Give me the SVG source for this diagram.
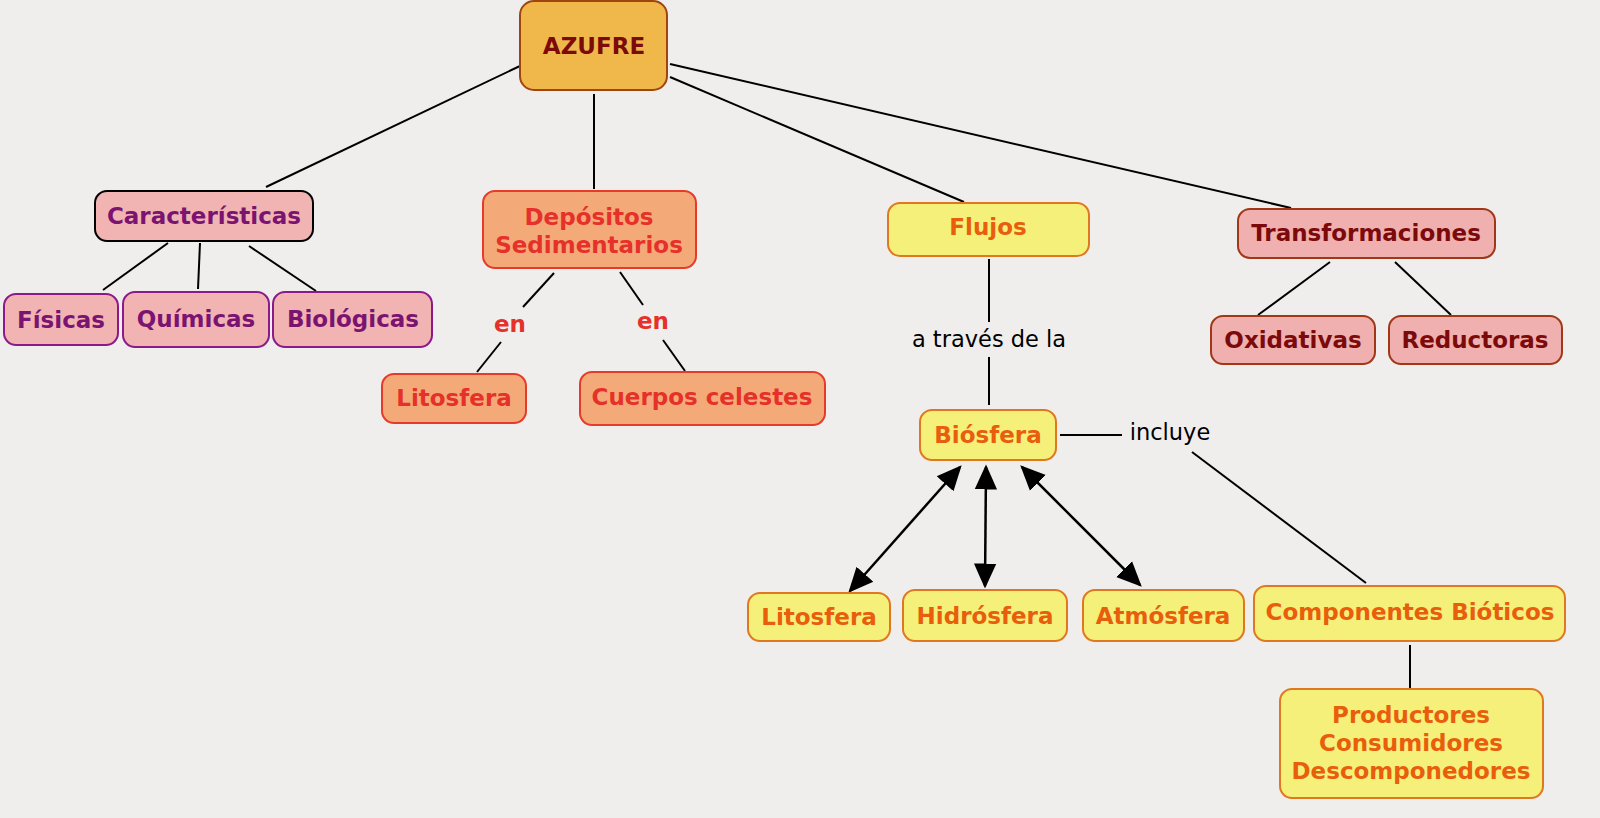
<svg xmlns="http://www.w3.org/2000/svg" width="1600" height="818" viewBox="0 0 1600 818">
<defs>
<marker id="ah" viewBox="0 0 10 10" refX="9" refY="5" markerWidth="25" markerHeight="25" markerUnits="userSpaceOnUse" orient="auto-start-reverse">
<path d="M0,0.5 L10,5 L0,9.5 z" fill="#000"/>
</marker>
<style>
.bg{fill:#efeeec}
rect{stroke-width:2}
.t{font-family:"DejaVu Sans",Verdana,sans-serif;font-weight:bold;font-size:23px;text-anchor:middle}
.l{font-family:"DejaVu Sans",Verdana,sans-serif;font-size:22.5px;text-anchor:middle;fill:#000}
.root{fill:#f0b84a;stroke:#a0450e}
.rootT{fill:#7c0a0a}
.pk{fill:#f2b3b3;stroke:#000}
.pkp{fill:#f2b3b3;stroke:#8a1a8a}
.pT{fill:#7b1470}
.sa{fill:#f4aa78;stroke:#e63a2a}
.sT{fill:#e6302a}
.ye{fill:#f4f07a;stroke:#e07820}
.yT{fill:#e85e0c}
.tr{fill:#f0b0b0;stroke:#a03818}
.rT{fill:#7c0a0a}
.c{stroke:#000;stroke-width:2;fill:none}
.ar{stroke:#000;stroke-width:2.5;fill:none}
.en{font-family:"DejaVu Sans",Verdana,sans-serif;font-weight:bold;font-size:23px;text-anchor:middle;fill:#e6302a}
</style>
</defs>
<rect class="bg" x="0" y="0" width="1600" height="818" style="stroke:none"/>
<g id="connectors">
<line class="c" x1="520" y1="66" x2="266" y2="187"/>
<line class="c" x1="594" y1="94" x2="594" y2="189"/>
<line class="c" x1="670" y1="77" x2="964" y2="202"/>
<line class="c" x1="670" y1="64" x2="1291" y2="208"/>
<line class="c" x1="168" y1="243" x2="103" y2="290"/>
<line class="c" x1="200" y1="243" x2="198" y2="289"/>
<line class="c" x1="249" y1="246" x2="316" y2="291"/>
<line class="c" x1="554" y1="273" x2="523" y2="307"/>
<line class="c" x1="501" y1="342" x2="477" y2="372"/>
<line class="c" x1="620" y1="272" x2="643" y2="305"/>
<line class="c" x1="663" y1="340" x2="685" y2="371"/>
<line class="c" x1="989" y1="259" x2="989" y2="322"/>
<line class="c" x1="989" y1="357" x2="989" y2="405"/>
<line class="c" x1="1060" y1="435" x2="1122" y2="435"/>
<line class="c" x1="1192" y1="452" x2="1366" y2="583"/>
<line class="c" x1="1330" y1="262" x2="1258" y2="315"/>
<line class="c" x1="1395" y1="262" x2="1451" y2="315"/>
<line class="c" x1="1410" y1="645" x2="1410" y2="688"/>
<line class="ar" x1="960" y1="467" x2="850" y2="591" marker-start="url(#ah)" marker-end="url(#ah)"/>
<line class="ar" x1="986" y1="467" x2="985" y2="586" marker-start="url(#ah)" marker-end="url(#ah)"/>
<line class="ar" x1="1022" y1="467" x2="1140" y2="585" marker-start="url(#ah)" marker-end="url(#ah)"/>
<text class="en" x="510" y="332">en</text>
<text class="en" x="653" y="329">en</text>
<text class="l" x="989" y="347">a través de la</text>
<text class="l" x="1170" y="440">incluye</text>
</g>
<g id="azufre"><rect class="root" x="520" y="1" width="147" height="89" rx="14"/><text class="t rootT" x="594" y="54">AZUFRE</text></g>
<g id="caracteristicas"><rect class="pk" x="95" y="191" width="218" height="50" rx="12"/><text class="t pT" x="204" y="224">Características</text></g>
<g id="fisicas"><rect class="pkp" x="4" y="294" width="114" height="51" rx="12"/><text class="t pT" x="61" y="328">Físicas</text></g>
<g id="quimicas"><rect class="pkp" x="123" y="292" width="146" height="55" rx="12"/><text class="t pT" x="196" y="327">Químicas</text></g>
<g id="biologicas"><rect class="pkp" x="273" y="292" width="159" height="55" rx="12"/><text class="t pT" x="353" y="327">Biológicas</text></g>
<g id="depositos"><rect class="sa" x="483" y="191" width="213" height="77" rx="12"/><text class="t sT" x="589" y="225">Depósitos</text><text class="t sT" x="589" y="253">Sedimentarios</text></g>
<g id="litosfera1"><rect class="sa" x="382" y="374" width="144" height="49" rx="12"/><text class="t sT" x="454" y="406">Litosfera</text></g>
<g id="cuerpos"><rect class="sa" x="580" y="372" width="245" height="53" rx="12"/><text class="t sT" x="702" y="405">Cuerpos celestes</text></g>
<g id="flujos"><rect class="ye" x="888" y="203" width="201" height="53" rx="12"/><text class="t yT" x="988" y="235">Flujos</text></g>
<g id="biosfera"><rect class="ye" x="920" y="410" width="136" height="50" rx="12"/><text class="t yT" x="988" y="443">Biósfera</text></g>
<g id="litosfera2"><rect class="ye" x="748" y="593" width="142" height="48" rx="12"/><text class="t yT" x="819" y="625">Litosfera</text></g>
<g id="hidrosfera"><rect class="ye" x="903" y="590" width="164" height="51" rx="12"/><text class="t yT" x="985" y="624">Hidrósfera</text></g>
<g id="atmosfera"><rect class="ye" x="1083" y="590" width="161" height="51" rx="12"/><text class="t yT" x="1163" y="624">Atmósfera</text></g>
<g id="componentes"><rect class="ye" x="1254" y="586" width="311" height="55" rx="12"/><text class="t yT" x="1410" y="620">Componentes Bióticos</text></g>
<g id="productores"><rect class="ye" x="1280" y="689" width="263" height="109" rx="12"/><text class="t yT" x="1411" y="723">Productores</text><text class="t yT" x="1411" y="751">Consumidores</text><text class="t yT" x="1411" y="779">Descomponedores</text></g>
<g id="transformaciones"><rect class="tr" x="1238" y="209" width="257" height="49" rx="12"/><text class="t rT" x="1366" y="241">Transformaciones</text></g>
<g id="oxidativas"><rect class="tr" x="1211" y="316" width="164" height="48" rx="12"/><text class="t rT" x="1293" y="348">Oxidativas</text></g>
<g id="reductoras"><rect class="tr" x="1389" y="316" width="173" height="48" rx="12"/><text class="t rT" x="1475" y="348">Reductoras</text></g>
</svg>
